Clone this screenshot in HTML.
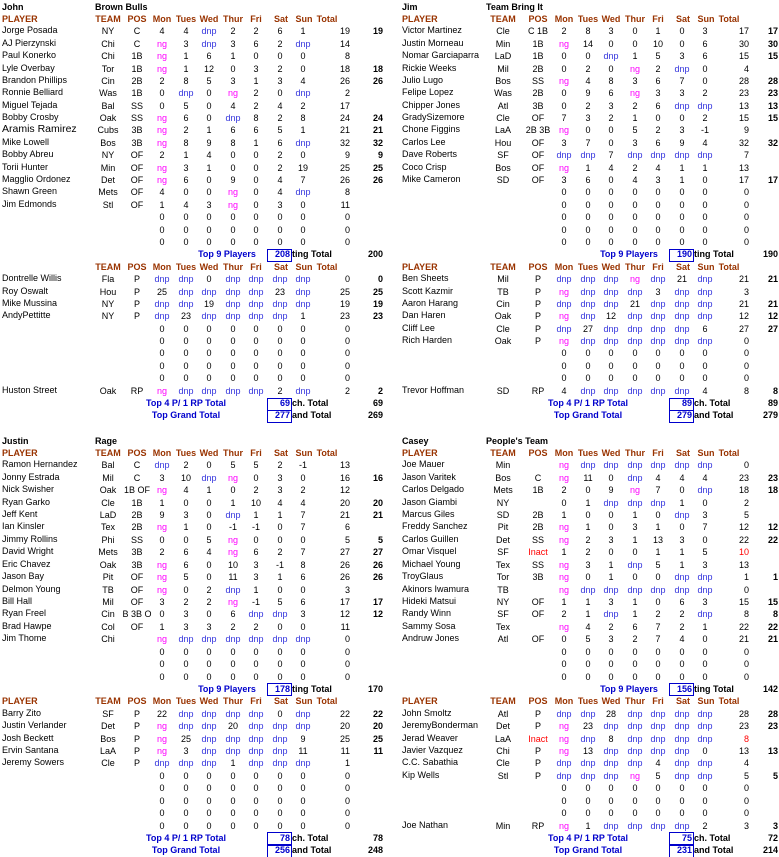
<!DOCTYPE html>
<html><head><meta charset="utf-8">
<style>
html,body{margin:0;padding:0;background:#fff;width:779px;height:857px;overflow:hidden;position:relative}
#c{position:absolute;left:0;top:0;width:779px;height:857px;font-family:"Liberation Sans",Arial,sans-serif;font-size:9px;}
.t{position:absolute;white-space:nowrap;line-height:12px;height:12px}
.h{color:#993300;font-weight:bold}
.dnp{color:#3333dd}
.ng{color:#ff00ff}
.red{color:#ff0000}
.b{font-weight:bold}
.bl{color:#0000cc;font-weight:bold}
.box{position:absolute;border:1px solid #0000cc;box-sizing:border-box}
</style></head><body><div id="c"></div>
<script>
var S=[
{x:'L',y0:7,st:12.39,owner:'John',team:'Brown Bulls',pHdr:false,
h:["Jorge Posada|NY|C|4|4|dnp|2|2|6|1|19|19","AJ Pierzynski|Chi|C|ng|3|dnp|3|6|2|dnp|14|","Paul Konerko|Chi|1B|ng|1|6|1|0|0|0|8|","Lyle Overbay|Tor|1B|ng|1|12|0|3|2|0|18|18","Brandon Phillips|Cin|2B|2|8|5|3|1|3|4|26|26","Ronnie Belliard|Was|1B|0|dnp|0|ng|2|0|dnp|2|","Miguel Tejada|Bal|SS|0|5|0|4|2|4|2|17|","Bobby Crosby|Oak|SS|ng|6|0|dnp|8|2|8|24|24","Aramis Ramirez|Cubs|3B|ng|2|1|6|6|5|1|21|21","Mike Lowell|Bos|3B|ng|8|9|8|1|6|dnp|32|32","Bobby Abreu|NY|OF|2|1|4|0|0|2|0|9|9","Torii Hunter|Min|OF|ng|3|1|0|0|2|19|25|25","Magglio Ordonez|Det|OF|ng|6|0|9|0|4|7|26|26","Shawn Green|Mets|OF|4|0|0|ng|0|4|dnp|8|","Jim Edmonds|Stl|OF|1|4|3|ng|0|3|0|11|"],
p:["Dontrelle Willis|Fla|P|dnp|dnp|0|dnp|dnp|dnp|dnp|0|0","Roy Oswalt|Hou|P|25|dnp|dnp|dnp|dnp|23|dnp|25|25","Mike Mussina|NY|P|dnp|dnp|19|dnp|dnp|dnp|dnp|19|19","AndyPettitte|NY|P|dnp|23|dnp|dnp|dnp|dnp|1|23|23"],
rp:"Huston Street|Oak|RP|ng|dnp|dnp|dnp|dnp|2|dnp|2|2",t9:[208,200],t4:[69,69],gt:[277,269]},
{x:'R',y0:7,st:12.39,owner:'Jim',team:'Team Bring It',pHdr:true,
h:["Victor Martinez|Cle|C 1B|2|8|3|0|1|0|3|17|17","Justin Morneau|Min|1B|ng|14|0|0|10|0|6|30|30","Nomar Garciaparra|LaD|1B|0|0|dnp|1|5|3|6|15|15","Rickie Weeks|Mil|2B|0|2|0|ng|2|dnp|0|4|","Julio Lugo|Bos|SS|ng|4|8|3|6|7|0|28|28","Felipe Lopez|Was|2B|0|9|6|ng|3|3|2|23|23","Chipper Jones|Atl|3B|0|2|3|2|6|dnp|dnp|13|13","GradySizemore|Cle|OF|7|3|2|1|0|0|2|15|15","Chone Figgins|LaA|2B 3B|ng|0|0|5|2|3|-1|9|","Carlos Lee|Hou|OF|3|7|0|3|6|9|4|32|32","Dave Roberts|SF|OF|dnp|dnp|7|dnp|dnp|dnp|dnp|7|","Coco Crisp|Bos|OF|ng|1|4|2|4|1|1|13|","Mike Cameron|SD|OF|3|6|0|4|3|1|0|17|17"],
p:["Ben Sheets|Mil|P|dnp|dnp|dnp|ng|dnp|21|dnp|21|21","Scott Kazmir|TB|P|ng|dnp|dnp|dnp|3|dnp|dnp|3|","Aaron Harang|Cin|P|dnp|dnp|dnp|21|dnp|dnp|dnp|21|21","Dan Haren|Oak|P|ng|dnp|12|dnp|dnp|dnp|dnp|12|12","Cliff Lee|Cle|P|dnp|27|dnp|dnp|dnp|dnp|6|27|27","Rich Harden|Oak|P|ng|dnp|dnp|dnp|dnp|dnp|dnp|0|"],
rp:"Trevor Hoffman|SD|RP|4|dnp|dnp|dnp|dnp|dnp|4|8|8",t9:[190,190],t4:[89,89],gt:[279,279]},
{x:'L',y0:441,st:12.42,owner:'Justin',team:'Rage',pHdr:true,
h:["Ramon Hernandez|Bal|C|dnp|2|0|5|5|2|-1|13|","Jonny Estrada|Mil|C|3|10|dnp|ng|0|3|0|16|16","Nick Swisher|Oak|1B OF|ng|4|1|0|2|3|2|12|","Ryan Garko|Cle|1B|1|0|0|1|10|4|4|20|20","Jeff Kent|LaD|2B|9|3|0|dnp|1|1|7|21|21","Ian Kinsler|Tex|2B|ng|1|0|-1|-1|0|7|6|","Jimmy Rollins|Phi|SS|0|0|5|ng|0|0|0|5|5","David Wright|Mets|3B|2|6|4|ng|6|2|7|27|27","Eric Chavez|Oak|3B|ng|6|0|10|3|-1|8|26|26","Jason Bay|Pit|OF|ng|5|0|11|3|1|6|26|26","Delmon Young|TB|OF|ng|0|2|dnp|1|0|0|3|","Bill Hall|Mil|OF|3|2|2|ng|-1|5|6|17|17","Ryan Freel|Cin|B 3B O|0|3|0|6|dnp|dnp|3|12|12","Brad Hawpe|Col|OF|1|3|3|2|2|0|0|11|","Jim Thome|Chi||ng|dnp|dnp|dnp|dnp|dnp|dnp|0|"],
p:["Barry Zito|SF|P|22|dnp|dnp|dnp|dnp|0|dnp|22|22","Justin Verlander|Det|P|ng|dnp|dnp|20|dnp|dnp|dnp|20|20","Josh Beckett|Bos|P|ng|25|dnp|dnp|dnp|dnp|9|25|25","Ervin Santana|LaA|P|ng|3|dnp|dnp|dnp|dnp|11|11|11","Jeremy Sowers|Cle|P|dnp|dnp|dnp|1|dnp|dnp|dnp|1|"],
rp:null,t9:[178,170],t4:[78,78],gt:[256,248]},
{x:'R',y0:441,st:12.42,owner:'Casey',team:"People's Team",pHdr:true,
h:["Joe Mauer|Min||ng|dnp|dnp|dnp|dnp|dnp|dnp|0|","Jason Varitek|Bos|C|ng|11|0|dnp|4|4|4|23|23","Carlos Delgado|Mets|1B|2|0|9|ng|7|0|dnp|18|18","Jason Giambi|NY||0|1|dnp|dnp|dnp|1|0|2|","Marcus Giles|SD|2B|1|0|0|1|0|dnp|3|5|","Freddy Sanchez|Pit|2B|ng|1|0|3|1|0|7|12|12","Carlos Guillen|Det|SS|ng|2|3|1|13|3|0|22|22","Omar Visquel|SF|Inact|1|2|0|0|1|1|5|10|","Michael Young|Tex|SS|ng|3|1|dnp|5|1|3|13|","TroyGlaus|Tor|3B|ng|0|1|0|0|dnp|dnp|1|1","Akinors Iwamura|TB||ng|dnp|dnp|dnp|dnp|dnp|dnp|0|","Hideki Matsui|NY|OF|1|1|3|1|0|6|3|15|15","Randy Winn|SF|OF|2|1|dnp|1|2|2|dnp|8|8","Sammy Sosa|Tex||ng|4|2|6|7|2|1|22|22","Andruw Jones|Atl|OF|0|5|3|2|7|4|0|21|21"],
p:["John Smoltz|Atl|P|dnp|dnp|28|dnp|dnp|dnp|dnp|28|28","JeremyBonderman|Det|P|ng|23|dnp|dnp|dnp|dnp|dnp|23|23","Jerad Weaver|LaA|Inact|ng|dnp|8|dnp|dnp|dnp|dnp|8|","Javier Vazquez|Chi|P|ng|13|dnp|dnp|dnp|dnp|0|13|13","C.C. Sabathia|Cle|P|dnp|dnp|dnp|dnp|4|dnp|dnp|4|","Kip Wells|Stl|P|dnp|dnp|dnp|ng|5|dnp|dnp|5|5"],
rp:"Joe Nathan|Min|RP|ng|1|dnp|dnp|dnp|dnp|2|3|3",t9:[156,142],t4:[75,72],gt:[231,214]}
];
var C={L:{name:2,team:108,pos:137,d:[162,186,209,233,256,280,303],tot:350,ex:383,hTot:327,box:267,lbl9:227,lbl4:186,lblG:186,tm:95},
       R:{name:402,team:503,pos:538,d:[564,588,611,635,658,682,705],tot:749,ex:778,hTot:729,box:669,lbl9:629,lbl4:588,lblG:588,tm:486}};
var out=[];
function T(x,y,txt,cls,al){var st;
 if(al==='c')st='left:'+(x-40)+'px;width:80px;text-align:center;';
 else if(al==='r')st='left:'+(x-80)+'px;width:80px;text-align:right;';
 else st='left:'+x+'px;';
 out.push('<div class="t '+(cls||'')+'" style="'+st+'top:'+(y-6.5).toFixed(1)+'px">'+txt+'</div>');}
function cc(v){return v==='dnp'?'dnp':v==='ng'?'ng':v==='Inact'?'red':'';}
function row(c,y,s,zero){var f=zero?['','','','0','0','0','0','0','0','0','0','']:s.split('|');
 if(f[0])T(c.name,y-1,f[0],f[0]=='Aramis Ramirez'?'big':'');
 T(c.team,y,f[1],'','c');T(c.pos,y,f[2],cc(f[2]),'c');
 for(var i=0;i<7;i++)T(c.d[i],y,f[3+i],cc(f[3+i]),'c');
 T(c.tot,y,f[10],f[2]==='Inact'?'red':'','r');
 if(f[11])T(c.ex,y,f[11],'b','r');}
function hdr(c,y,pl){if(pl)T(c.name,y,'PLAYER','h');
 T(c.team,y,'TEAM','h','c');T(c.pos,y,'POS','h','c');
 var n=['Mon','Tues','Wed','Thur','Fri','Sat','Sun'];
 for(var i=0;i<7;i++)T(c.d[i]+(i>4?1:0),y,n[i],'h','c');
 T(c.hTot,y,'Total','h','c');}
function tot(c,y,lbl,lx,v,tail,v2){T(lx,y,lbl,'bl','c');
 out.push('<div class="box" style="left:'+c.box+'px;top:'+(y-6).toFixed(1)+'px;width:25px;height:13px"></div>');
 T(c.box+23,y,v,'bl','r');T(c.box+25,y,tail,'b');T(c.ex,y,v2,'b','r');}
S.forEach(function(s){var c=C[s.x];var Y=function(r){return s.y0+r*s.st;};
 T(c.name,Y(0),s.owner,'b');T(c.tm,Y(0),s.team,'b');
 hdr(c,Y(1),true);
 for(var r=2;r<=19;r++){var i=r-2;row(c,Y(r),s.h[i],i>=s.h.length);}
 tot(c,Y(20),'Top 9 Players',c.lbl9,s.t9[0],'ting Total',s.t9[1]);
 hdr(c,Y(21),s.pHdr);
 for(var r=22;r<=31;r++){var i=r-22;
  if(r==31&&s.rp)row(c,Y(r),s.rp);else row(c,Y(r),s.p[i],i>=s.p.length);}
 tot(c,Y(32),'Top 4 P/ 1 RP Total',c.lbl4,s.t4[0],'ch. Total',s.t4[1]);
 tot(c,Y(33),'Top Grand Total',c.lblG,s.gt[0],'and Total',s.gt[1]);
});
document.getElementById('c').innerHTML=out.join('');
</script>
<style>.big{font-size:10.5px}</style>
</body></html>
